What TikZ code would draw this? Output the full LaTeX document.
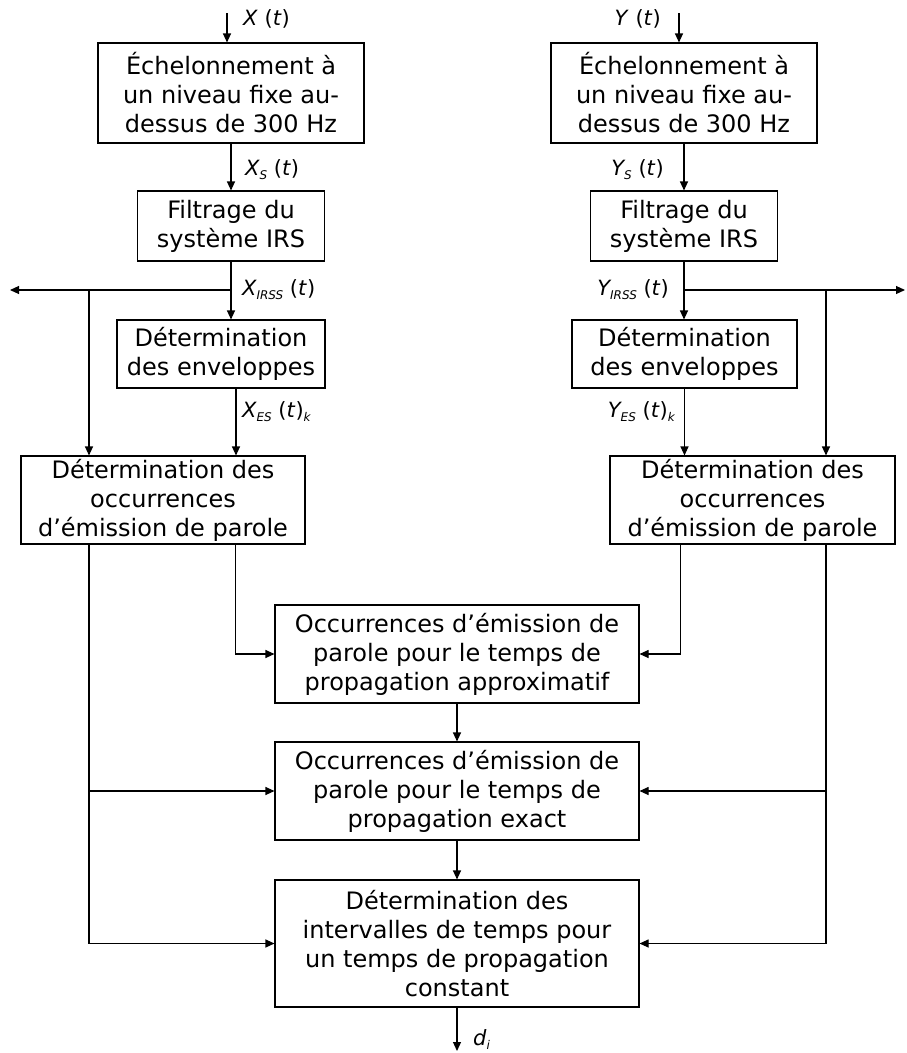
\documentclass[tikz,border=0pt]{standalone}
\usepackage{fontspec}
\setmainfont{DejaVu Sans}
\usepackage{tikz}
\usetikzlibrary{arrows.meta,positioning}

\newcommand{\sigsub}[1]{\raisebox{-4pt}{\fontsize{12}{12}\selectfont\itshape #1}}
\newcommand{\oft}{ \textup{(}t\textup{)}}

\begin{document}
\begin{tikzpicture}[
      x=1pt, y=-1pt,
      box/.style={rectangle, draw=black, line width=1.1pt, align=center,
                  inner sep=2pt, font=\fontsize{24}{29}\selectfont},
      lbl/.style={inner sep=0pt, font=\fontsize{21}{25}\selectfont\itshape},
      arr/.style={-{Triangle[length=9pt,width=8pt]}, line width=1.1pt}
    ]
    \useasboundingbox (0,0) rectangle (906,1053);
    \node[box,minimum width=266pt,minimum height=100pt] (xech) at (231,93) {Échelonnement à\\un niveau fixe au-\\dessus de 300 Hz};
    \node[box,minimum width=266pt,minimum height=100pt] (yech) at (684,93) {Échelonnement à\\un niveau fixe au-\\dessus de 300 Hz};
    \node[box,minimum width=187pt,minimum height=70pt] (xfil) at (231,226) {Filtrage du\\système IRS};
    \node[box,minimum width=187pt,minimum height=70pt] (yfil) at (684,226) {Filtrage du\\système IRS};
    \node[box,minimum width=208pt,minimum height=68pt] (xenv) at (221,354) {Détermination\\des enveloppes};
    \node[box,minimum width=225pt,minimum height=68pt] (yenv) at (684.5,354) {Détermination\\des enveloppes};
    \node[box,minimum width=284pt,minimum height=88pt] (xocc) at (163,500) {Détermination des\\occurrences\\d’émission de parole};
    \node[box,minimum width=285pt,minimum height=88pt] (yocc) at (752.5,500) {Détermination des\\occurrences\\d’émission de parole};
    \node[box,minimum width=364pt,minimum height=98pt] (appr) at (457,654) {Occurrences d’émission de\\parole pour le temps de\\propagation approximatif};
    \node[box,minimum width=364pt,minimum height=98pt] (exa) at (457,791) {Occurrences d’émission de\\parole pour le temps de\\propagation exact};
    \node[box,minimum width=364pt,minimum height=127pt] (cst) at (457,943.5) {Détermination des\\intervalles de temps pour\\un temps de propagation\\constant};

    \coordinate (xin) at (227,13);
    \coordinate (yin) at (679,13);
    \coordinate (xbr) at (231,290);
    \coordinate (ybr) at (684,290);
    \coordinate (xtap) at (89,290);
    \coordinate (ytap) at (826,290);
    \coordinate (xout) at (10,290);
    \coordinate (yout) at (905,290);
    \coordinate (dout) at (457,1051);

    \node[lbl,anchor=west] (xinl) at (243,19) {X\oft};
    \node[lbl,anchor=east] (yinl) at (661,19) {Y\oft};
    \node[lbl,anchor=west] (xsl) at (245,170) {X\sigsub{S}\oft};
    \node[lbl,anchor=east] (ysl) at (664,170) {Y\sigsub{S}\oft};
    \node[lbl,anchor=west] (xirl) at (242,290) {X\sigsub{IRSS}\oft};
    \node[lbl,anchor=east] (yirl) at (669,290) {Y\sigsub{IRSS}\oft};
    \node[lbl,anchor=west] (xesl) at (242,412) {X\sigsub{ES}\oft\sigsub{k}};
    \node[lbl,anchor=east] (yesl) at (675,412) {Y\sigsub{ES}\oft\sigsub{k}};
    \node[lbl,anchor=west] (dl) at (473,1040) {d\sigsub{i}};

    \draw[arr] (xin) -- (xin |- xech.north);
    \draw[arr] (yin) -- (yin |- yech.north);
    \draw[arr] (xech) -- (xfil);
    \draw[arr] (yech) -- (yfil);
    \draw[arr] (xfil.south) -- (xfil.south |- xenv.north);
    \draw[arr] (yfil.south) -- (yfil.south |- yenv.north);
    \draw[arr] (xbr) -- (xout);
    \draw[arr] (ybr) -- (yout);
    \draw[arr] (xtap) -- (xtap |- xocc.north);
    \draw[arr] (ytap) -- (ytap |- yocc.north);
    \draw[arr] ([xshift=15pt]xenv.south) -- ([xshift=15pt]xenv.south |- xocc.north);
    \draw[arr] (yenv.south) -- (yenv.south |- yocc.north);

    \draw[arr] ([xshift=215pt]xocc.south west) |- (appr.west);
    \draw[arr] ([xshift=-215pt]yocc.south east) |- (appr.east);
    \draw[arr] (xtap |- xocc.south) |- (cst.west);
    \draw[arr] (ytap |- yocc.south) |- (cst.east);
    \draw[arr] (xtap |- exa.west) -- (exa.west);
    \draw[arr] (ytap |- exa.east) -- (exa.east);

    \draw[arr] (appr) -- (exa);
    \draw[arr] (exa) -- (cst);
    \draw[arr] (cst) -- (dout);
  \end{tikzpicture}
\end{document}
